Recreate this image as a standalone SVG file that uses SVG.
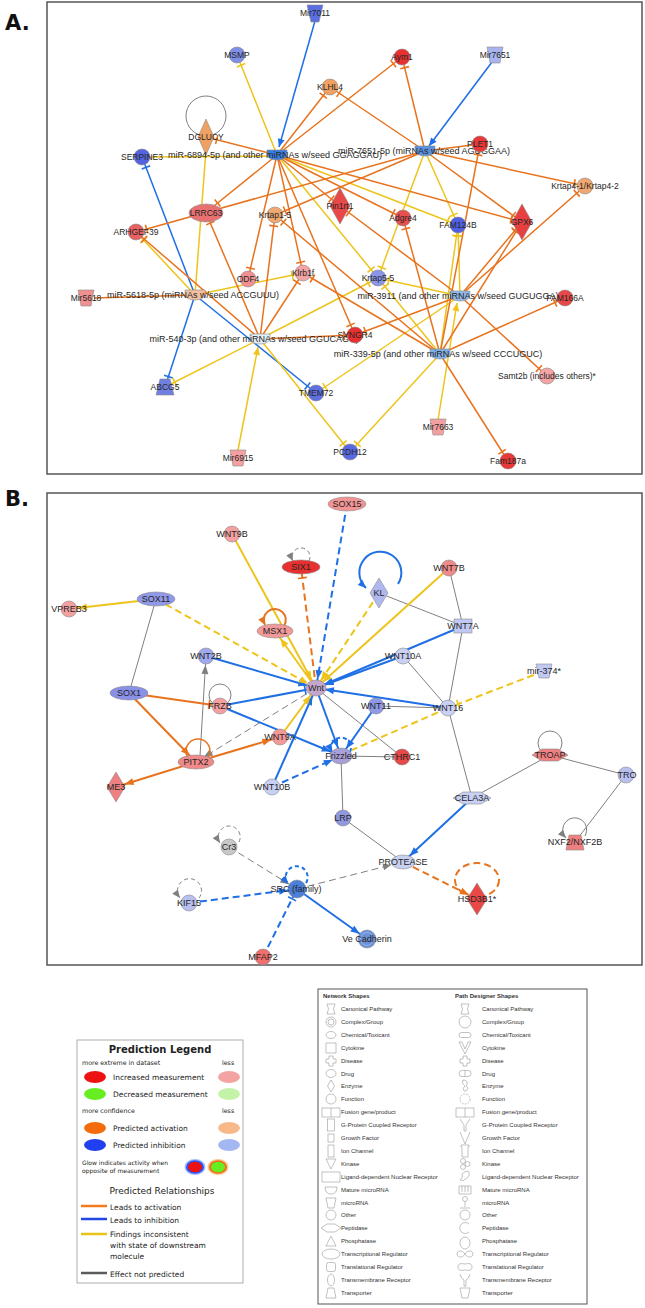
<svg xmlns="http://www.w3.org/2000/svg" width="645" height="1308" viewBox="0 0 645 1308">
<style>
.o{stroke:#e8731e;stroke-width:1.5;fill:none}
.b{stroke:#1f6fe5;stroke-width:1.5;fill:none}
.y{stroke:#eec41c;stroke-width:1.5;fill:none}
.g{stroke:#808080;stroke-width:1;fill:none}
.w{stroke-width:2}
.d{stroke-dasharray:7 4}
.d2{stroke-dasharray:4 3}
.n{stroke:#8c8c8c;stroke-width:.6}
.t{font-family:"Liberation Sans",Arial,sans-serif;font-size:8.5px;fill:#262626;text-anchor:middle}
.th{font-size:9px}
.lg{font-family:"DejaVu Sans",Verdana,sans-serif;fill:#222}
.ns{font-family:"Liberation Sans",Arial,sans-serif;font-size:6px;fill:#333}
.sh{fill:none;stroke:#999;stroke-width:.6}
.fr{fill:none;stroke:#555;stroke-width:1.5}
</style>
<defs>
<marker id="a9o" markerUnits="userSpaceOnUse" markerWidth="12" markerHeight="12" refX="18" refY="0" orient="auto" overflow="visible"><path d="M0,-3.5L9,0L0,3.5Z" fill="#e8731e"/></marker>
<marker id="a9b" markerUnits="userSpaceOnUse" markerWidth="12" markerHeight="12" refX="18" refY="0" orient="auto" overflow="visible"><path d="M0,-3.5L9,0L0,3.5Z" fill="#1f6fe5"/></marker>
<marker id="a9y" markerUnits="userSpaceOnUse" markerWidth="12" markerHeight="12" refX="18" refY="0" orient="auto" overflow="visible"><path d="M0,-3.5L9,0L0,3.5Z" fill="#eec41c"/></marker>
<marker id="a9g" markerUnits="userSpaceOnUse" markerWidth="12" markerHeight="12" refX="18" refY="0" orient="auto" overflow="visible"><path d="M0,-3.5L9,0L0,3.5Z" fill="#808080"/></marker>
<marker id="a0o" markerUnits="userSpaceOnUse" markerWidth="12" markerHeight="12" refX="8" refY="0" orient="auto" overflow="visible"><path d="M0,-3.5L8,0L0,3.5Z" fill="#e8731e"/></marker>
<marker id="a0b" markerUnits="userSpaceOnUse" markerWidth="12" markerHeight="12" refX="8" refY="0" orient="auto" overflow="visible"><path d="M0,-3.5L8,0L0,3.5Z" fill="#1f6fe5"/></marker>
<marker id="a0y" markerUnits="userSpaceOnUse" markerWidth="12" markerHeight="12" refX="8" refY="0" orient="auto" overflow="visible"><path d="M0,-3.5L8,0L0,3.5Z" fill="#eec41c"/></marker>
<marker id="a0g" markerUnits="userSpaceOnUse" markerWidth="12" markerHeight="12" refX="8" refY="0" orient="auto" overflow="visible"><path d="M0,-3.5L8,0L0,3.5Z" fill="#808080"/></marker>
<marker id="to" markerUnits="userSpaceOnUse" markerWidth="12" markerHeight="12" refX="11" refY="0" orient="auto" overflow="visible"><path d="M0,-4.5V4.5" stroke="#e8731e" stroke-width="1.6"/></marker>
<marker id="tb" markerUnits="userSpaceOnUse" markerWidth="12" markerHeight="12" refX="11" refY="0" orient="auto" overflow="visible"><path d="M0,-4.5V4.5" stroke="#1f6fe5" stroke-width="1.6"/></marker>
<marker id="ty" markerUnits="userSpaceOnUse" markerWidth="12" markerHeight="12" refX="11" refY="0" orient="auto" overflow="visible"><path d="M0,-4.5V4.5" stroke="#eec41c" stroke-width="1.6"/></marker>
</defs>
<rect width="645" height="1308" fill="#fff"/>
<text x="5" y="30" font-family="DejaVu Sans,Verdana,sans-serif" font-weight="bold" font-size="21" fill="#111">A.</text>
<text x="5" y="506" font-family="DejaVu Sans,Verdana,sans-serif" font-weight="bold" font-size="21" fill="#111">B.</text>
<rect class="fr" x="47" y="2" width="595" height="472"/>
<rect class="fr" x="47" y="493" width="595" height="472"/>

<g id="connectorsA">
<circle class="g" cx="206" cy="116" r="20"/>
<line class="b" x1="315" y1="21" x2="279" y2="147" marker-end="url(#a0b)"/>
<line class="b" x1="492" y1="62" x2="429" y2="146" marker-end="url(#a0b)"/>
<line class="b" x1="195" y1="295" x2="142" y2="157" marker-end="url(#tb)"/>
<line class="b" x1="195" y1="295" x2="165" y2="387" marker-end="url(#tb)"/>
<line class="b" x1="195" y1="295" x2="316" y2="393" marker-end="url(#tb)"/>
<line class="y" x1="277" y1="155" x2="237" y2="55" marker-end="url(#ty)"/>
<line class="y" x1="277" y1="156" x2="150" y2="157"/>
<line class="y" x1="206" y1="150" x2="195" y2="295"/>
<line class="y" x1="277" y1="155" x2="458" y2="225" marker-end="url(#ty)"/>
<line class="y" x1="277" y1="155" x2="378" y2="278" marker-end="url(#ty)"/>
<line class="y" x1="425" y1="151" x2="458" y2="225" marker-end="url(#ty)"/>
<line class="y" x1="425" y1="151" x2="378" y2="278" marker-end="url(#ty)"/>
<line class="y" x1="195" y1="295" x2="136" y2="232" marker-end="url(#ty)"/>
<line class="y" x1="195" y1="295" x2="303" y2="273" marker-end="url(#ty)"/>
<line class="y" x1="260" y1="339" x2="165" y2="387" marker-end="url(#ty)"/>
<line class="y" x1="238" y1="450" x2="258" y2="347" marker-end="url(#a0y)"/>
<line class="y" x1="260" y1="339" x2="378" y2="278" marker-end="url(#ty)"/>
<line class="y" x1="260" y1="339" x2="350" y2="452" marker-end="url(#ty)"/>
<line class="y" x1="460" y1="296" x2="458" y2="225" marker-end="url(#ty)"/>
<line class="y" x1="440" y1="354" x2="458" y2="225" marker-end="url(#ty)"/>
<line class="y" x1="460" y1="296" x2="378" y2="278" marker-end="url(#ty)"/>
<line class="y" x1="460" y1="296" x2="316" y2="393" marker-end="url(#ty)"/>
<line class="y" x1="440" y1="354" x2="378" y2="278" marker-end="url(#ty)"/>
<line class="y" x1="440" y1="354" x2="350" y2="452" marker-end="url(#ty)"/>
<line class="y" x1="438" y1="420" x2="457" y2="303" marker-end="url(#a0y)"/>
<line class="o" x1="277" y1="155" x2="330" y2="87" marker-end="url(#to)"/>
<line class="o" x1="277" y1="155" x2="402" y2="57" marker-end="url(#to)"/>
<line class="o" x1="277" y1="155" x2="206" y2="137" marker-end="url(#to)"/>
<line class="o" x1="277" y1="155" x2="209" y2="210" marker-end="url(#to)"/>
<line class="o" x1="277" y1="155" x2="340" y2="206" marker-end="url(#to)"/>
<line class="o" x1="277" y1="155" x2="403" y2="218" marker-end="url(#to)"/>
<line class="o" x1="277" y1="155" x2="522" y2="222" marker-end="url(#to)"/>
<line class="o" x1="277" y1="155" x2="248" y2="279" marker-end="url(#to)"/>
<line class="o" x1="277" y1="155" x2="303" y2="273" marker-end="url(#to)"/>
<line class="o" x1="277" y1="155" x2="355" y2="335" marker-end="url(#to)"/>
<line class="o" x1="425" y1="151" x2="402" y2="57" marker-end="url(#to)"/>
<line class="o" x1="425" y1="151" x2="330" y2="87" marker-end="url(#to)"/>
<line class="o" x1="425" y1="151" x2="472" y2="145"/>
<line class="o" x1="425" y1="151" x2="585" y2="186" marker-end="url(#to)"/>
<line class="o" x1="425" y1="151" x2="522" y2="222" marker-end="url(#to)"/>
<line class="o" x1="425" y1="151" x2="275" y2="215" marker-end="url(#to)"/>
<line class="o" x1="425" y1="151" x2="136" y2="232" marker-end="url(#to)"/>
<line class="o" x1="94" y1="298" x2="195" y2="295"/>
<line class="o" x1="260" y1="339" x2="136" y2="232" marker-end="url(#to)"/>
<line class="o" x1="260" y1="339" x2="206" y2="213" marker-end="url(#to)"/>
<line class="o" x1="260" y1="339" x2="275" y2="215" marker-end="url(#to)"/>
<line class="o" x1="260" y1="339" x2="303" y2="273" marker-end="url(#to)"/>
<line class="o" x1="260" y1="339" x2="355" y2="335" marker-end="url(#to)"/>
<line class="o" x1="460" y1="296" x2="522" y2="222" marker-end="url(#to)"/>
<line class="o" x1="440" y1="354" x2="522" y2="222" marker-end="url(#to)"/>
<line class="o" x1="460" y1="296" x2="355" y2="335" marker-end="url(#to)"/>
<line class="o" x1="460" y1="296" x2="547" y2="376" marker-end="url(#to)"/>
<line class="o" x1="440" y1="354" x2="565" y2="298" marker-end="url(#to)"/>
<line class="o" x1="440" y1="354" x2="403" y2="218" marker-end="url(#to)"/>
<line class="o" x1="440" y1="354" x2="508" y2="461" marker-end="url(#to)"/>
<line class="o" x1="440" y1="354" x2="303" y2="273" marker-end="url(#to)"/>
<line class="o" x1="460" y1="296" x2="340" y2="206" marker-end="url(#to)"/>
<line class="o" x1="440" y1="354" x2="275" y2="215" marker-end="url(#to)"/>
<line class="o" x1="440" y1="354" x2="480" y2="144" marker-end="url(#to)"/>
<line class="o" x1="460" y1="296" x2="585" y2="186" marker-end="url(#to)"/>
</g>

<g id="nodesA">
<g id="Mir7011"><path class="n" d="M307,5H323L319,22H311Z" fill="#5b6fe0"/><text class="t" x="315" y="16">Mir7011</text></g>
<g id="MSMP"><circle class="n" cx="237" cy="55" r="8" fill="#7f8fe8"/><text class="t" x="237" y="58">MSMP</text></g>
<g id="KLHL4"><circle class="n" cx="330" cy="87" r="8" fill="#f0a060"/><text class="t" x="330" y="90">KLHL4</text></g>
<g id="DGLUCY"><polygon class="n" points="206,119 214,137 206,155 198,137" fill="#f0a060"/><text class="t" x="206" y="140">DGLUCY</text></g>
<g id="SERPINE3"><circle class="n" cx="142" cy="157" r="8" fill="#5464e0"/><text class="t" x="142" y="160">SERPINE3</text></g>
<g id="miR-6894-5p"><path class="n" d="M267,150H287V153Q287,160 277,160Q267,160 267,153Z" fill="#3a7ee0"/><text class="t th" x="275" y="158">miR-6894-5p (and other miRNAs w/seed GGAGGAU)</text></g>
<g id="LRRC63"><ellipse class="n" cx="206" cy="213" rx="17" ry="9" fill="#e87070"/><text class="t" x="206" y="216">LRRC63</text></g>
<g id="Krtap1-5"><circle class="n" cx="275" cy="215" r="8" fill="#f0a870"/><text class="t" x="275" y="218">Krtap1-5</text></g>
<g id="ARHGEF39"><circle class="n" cx="136" cy="232" r="8" fill="#e86060"/><text class="t" x="136" y="235">ARHGEF39</text></g>
<g id="Pin1rt1"><polygon class="n" points="340,188 350,206 340,224 330,206" fill="#e84848"/><text class="t" x="340" y="209">Pin1rt1</text></g>
<g id="Aym1"><circle class="n" cx="402" cy="57" r="8" fill="#e83030"/><text class="t" x="402" y="60">Aym1</text></g>
<g id="Mir7651"><path class="n" d="M487,47H503L500,63H490Z" fill="#a8b4f0"/><text class="t" x="495" y="58">Mir7651</text></g>
<g id="miR-7651-5p"><path class="n" d="M415,146H435V149Q435,156 425,156Q415,156 415,149Z" fill="#5a92e0"/><text class="t th" x="424" y="154">miR-7651-5p (miRNAs w/seed AGUGGAA)</text></g>
<g id="PLET1"><circle class="n" cx="480" cy="144" r="8" fill="#e83838"/><text class="t" x="480" y="147">PLET1</text></g>
<g id="Krtap4-1"><circle class="n" cx="585" cy="186" r="8" fill="#f0a870"/><text class="t" x="585" y="189">Krtap4-1/Krtap4-2</text></g>
<g id="GPX6"><polygon class="n" points="522,204 532,222 522,240 512,222" fill="#e84040"/><text class="t" x="522" y="225">GPX6</text></g>
<g id="Adgre4"><circle class="n" cx="403" cy="218" r="8" fill="#e85050"/><text class="t" x="403" y="221">Adgre4</text></g>
<g id="FAM124B"><circle class="n" cx="458" cy="225" r="8" fill="#5060e0"/><text class="t" x="458" y="228">FAM124B</text></g>
<g id="Krtap5-5"><circle class="n" cx="378" cy="278" r="8" fill="#8a96ea"/><text class="t" x="378" y="281">Krtap5-5</text></g>
<g id="Klrb1f"><circle class="n" cx="303" cy="273" r="8" fill="#f4a4a4"/><text class="t" x="303" y="276">Klrb1f</text></g>
<g id="ODF4"><circle class="n" cx="248" cy="279" r="8" fill="#f09090"/><text class="t" x="248" y="282">ODF4</text></g>
<g id="Mir5618"><path class="n" d="M78,290H94L91,306H81Z" fill="#f09090"/><text class="t" x="86" y="301">Mir5618</text></g>
<g id="miR-5618-5p"><path class="n" d="M185,290H205V293Q205,300 195,300Q185,300 185,293Z" fill="#f4c0a0"/><text class="t th" x="193" y="298">miR-5618-5p (miRNAs w/seed ACCGUUU)</text></g>
<g id="miR-540-3p"><path class="n" d="M250,334H270V337Q270,344 260,344Q250,344 250,337Z" fill="#e2eef8"/><text class="t th" x="254" y="342">miR-540-3p (and other miRNAs w/seed GGUCAGU)</text></g>
<g id="ABCG5"><path class="n" d="M160,379H170L174,395H156Z" fill="#7080e0"/><text class="t" x="165" y="390">ABCG5</text></g>
<g id="TMEM72"><circle class="n" cx="316" cy="393" r="8" fill="#6070e0"/><text class="t" x="316" y="396">TMEM72</text></g>
<g id="Mir6915"><path class="n" d="M230,450H246L243,466H233Z" fill="#f4a0a0"/><text class="t" x="238" y="461">Mir6915</text></g>
<g id="PCDH12"><circle class="n" cx="350" cy="452" r="8" fill="#5868e0"/><text class="t" x="350" y="455">PCDH12</text></g>
<g id="miR-3911"><path class="n" d="M450,291H470V294Q470,301 460,301Q450,301 450,294Z" fill="#90b8e8"/><text class="t th" x="458" y="299">miR-3911 (and other miRNAs w/seed GUGUGGA)</text></g>
<g id="FAM166A"><circle class="n" cx="565" cy="298" r="8" fill="#e84848"/><text class="t" x="565" y="301">FAM166A</text></g>
<g id="SYNGR4"><circle class="n" cx="355" cy="335" r="8" fill="#e83030"/><text class="t" x="355" y="338">SYNGR4</text></g>
<g id="miR-339-5p"><path class="n" d="M430,349H450V352Q450,359 440,359Q430,359 430,352Z" fill="#80b0e8"/><text class="t th" x="438" y="357">miR-339-5p (and other miRNAs w/seed CCCUGUC)</text></g>
<g id="Samt2b"><circle class="n" cx="547" cy="376" r="8" fill="#f4a4a4"/><text class="t" x="547" y="379">Samt2b (includes others)*</text></g>
<g id="Mir7663"><path class="n" d="M430,419H446L443,435H433Z" fill="#f4a0a0"/><text class="t" x="438" y="430">Mir7663</text></g>
<g id="Fam187a"><circle class="n" cx="508" cy="461" r="8" fill="#e83838"/><text class="t" x="508" y="464">Fam187a</text></g>
</g>

<g id="connectorsB">
<line class="g" x1="379" y1="593" x2="463" y2="626"/>
<line class="g" x1="449" y1="568" x2="463" y2="626"/>
<line class="g" x1="463" y1="626" x2="448" y2="708"/>
<line class="g" x1="403" y1="656" x2="448" y2="708"/>
<line class="g" x1="376" y1="706" x2="448" y2="708"/>
<line class="g" x1="156" y1="599" x2="129" y2="693"/>
<line class="g" x1="316" y1="688" x2="402" y2="757"/>
<line class="g" x1="341" y1="756" x2="402" y2="757"/>
<line class="g" x1="341" y1="756" x2="343" y2="818"/>
<line class="g" x1="343" y1="818" x2="403" y2="862"/>
<line class="g" x1="448" y1="708" x2="472" y2="798"/>
<line class="g" x1="472" y1="798" x2="550" y2="755"/>
<line class="g" x1="550" y1="755" x2="626" y2="775"/>
<line class="g" x1="626" y1="775" x2="575" y2="842"/>
<line class="g" x1="200" y1="756" x2="206" y2="656" marker-end="url(#a9g)"/>
<line class="g d" x1="316" y1="688" x2="196" y2="762" marker-end="url(#a9g)"/>
<line class="g d" x1="297" y1="889" x2="391" y2="865" marker-end="url(#a0g)"/>
<line class="g d" x1="229" y1="847" x2="297" y2="889" marker-end="url(#a9g)"/>
<line class="b w" x1="463" y1="626" x2="316" y2="688" marker-end="url(#a9b)"/>
<line class="b w" x1="403" y1="656" x2="316" y2="688" marker-end="url(#a9b)"/>
<line class="b w" x1="448" y1="708" x2="316" y2="688" marker-end="url(#a9b)"/>
<line class="b w" x1="206" y1="656" x2="316" y2="688" marker-end="url(#a9b)"/>
<line class="b w" x1="220" y1="706" x2="316" y2="688" marker-end="url(#tb)"/>
<line class="b w" x1="272" y1="787" x2="316" y2="688" marker-end="url(#a9b)"/>
<line class="b w" x1="376" y1="706" x2="341" y2="756" marker-end="url(#a9b)"/>
<line class="b w" x1="316" y1="688" x2="341" y2="756" marker-end="url(#a9b)"/>
<line class="b w" x1="220" y1="706" x2="339" y2="755" marker-end="url(#a9b)"/>
<line class="b w" x1="472" y1="798" x2="403" y2="862" marker-end="url(#a9b)"/>
<line class="b w" x1="297" y1="889" x2="367" y2="939" marker-end="url(#a9b)"/>
<line class="b w d" x1="347" y1="504" x2="316" y2="688" marker-end="url(#a9b)"/>
<line class="b w d" x1="272" y1="787" x2="341" y2="756" marker-end="url(#a9b)"/>
<line class="b w d" x1="189" y1="903" x2="297" y2="889" marker-end="url(#a9b)"/>
<line class="b w d" x1="263" y1="957" x2="297" y2="889" marker-end="url(#tb)"/>
<line class="y w" x1="232" y1="534" x2="316" y2="688" marker-end="url(#a9y)"/>
<line class="y w" x1="449" y1="568" x2="316" y2="688" marker-end="url(#a9y)"/>
<line class="y w" x1="280" y1="737" x2="316" y2="688" marker-end="url(#a9y)"/>
<line class="y w" x1="156" y1="599" x2="69" y2="609" marker-end="url(#a9y)"/>
<line class="y w" x1="316" y1="688" x2="275" y2="631" marker-end="url(#a9y)"/>
<line class="y w d" x1="379" y1="593" x2="316" y2="688" marker-end="url(#a9y)"/>
<line class="y w d" x1="156" y1="599" x2="316" y2="688" marker-end="url(#a9y)"/>
<line class="y w d" x1="544" y1="671" x2="448" y2="708" marker-end="url(#ty)"/>
<line class="y w d" x1="448" y1="708" x2="352" y2="750"/>
<line class="o w" x1="129" y1="693" x2="220" y2="706" marker-end="url(#to)"/>
<line class="o w" x1="129" y1="693" x2="196" y2="762" marker-end="url(#a9o)"/>
<line class="o w" x1="196" y1="762" x2="280" y2="737" marker-end="url(#a9o)"/>
<line class="o w" x1="196" y1="762" x2="116" y2="787" marker-end="url(#a9o)"/>
<line class="o w d" x1="316" y1="688" x2="301" y2="567" marker-end="url(#to)"/>
<line class="o w d" x1="403" y1="862" x2="477" y2="899" marker-end="url(#a9o)"/>
<path class="g d2" d="M309,561A9,9 0 1 0 293,561" marker-end="url(#a0g)"/>
<path class="b w" d="M398,584A21,21 0 1 0 366,588" marker-end="url(#a0b)"/>
<path class="o w" d="M284,626A11,11 0 1 0 265,625" marker-end="url(#a0o)"/>
<circle class="g" cx="220" cy="695" r="11"/>
<circle class="o" cx="198" cy="751" r="12"/>
<path class="b w d2" d="M350,752A10,10 0 1 0 332,752" marker-end="url(#a0b)"/>
<circle class="g" cx="550" cy="743" r="12"/>
<path class="g" d="M585,836A12,12 0 1 0 566,838" marker-end="url(#a0g)"/>
<path class="g d2" d="M239,842A11,11 0 1 0 220,843" marker-end="url(#a0g)"/>
<path class="b w d2" d="M306,883A11,11 0 1 0 288,884" marker-end="url(#a0b)"/>
<path class="g d2" d="M199,898A12,12 0 1 0 180,898" marker-end="url(#a0g)"/>
<ellipse class="o w d" cx="477" cy="880" rx="22" ry="17"/>
</g>

<g id="nodesB">
<g id="SOX15"><ellipse class="n" cx="347" cy="504" rx="19" ry="7" fill="#f29494"/><text class="t th" x="347" y="507">SOX15</text></g>
<g id="WNT9B"><circle class="n" cx="232" cy="534" r="8" fill="#f4a0a0"/><text class="t th" x="232" y="537">WNT9B</text></g>
<g id="SIX1"><ellipse class="n" cx="301" cy="567" rx="19" ry="7" fill="#e83030"/><text class="t th" x="301" y="570">SIX1</text></g>
<g id="KL"><polygon class="n" points="379,578 388,593 379,608 370,593" fill="#b0b8f0"/><text class="t th" x="379" y="596">KL</text></g>
<g id="WNT7B"><circle class="n" cx="449" cy="568" r="8" fill="#f08a8a"/><text class="t th" x="449" y="571">WNT7B</text></g>
<g id="VPREB3"><circle class="n" cx="69" cy="609" r="8" fill="#f4a0a0"/><text class="t th" x="69" y="612">VPREB3</text></g>
<g id="SOX11"><ellipse class="n" cx="156" cy="599" rx="19" ry="7" fill="#9098e8"/><text class="t th" x="156" y="602">SOX11</text></g>
<g id="MSX1"><ellipse class="n" cx="275" cy="631" rx="18" ry="7" fill="#f29a9a"/><text class="t th" x="275" y="634">MSX1</text></g>
<g id="WNT7A"><rect class="n" x="454" y="619" width="18" height="14" fill="#c0c8f4"/><text class="t th" x="463" y="629">WNT7A</text></g>
<g id="WNT10A"><circle class="n" cx="403" cy="656" r="8" fill="#c8d0f4"/><text class="t th" x="403" y="659">WNT10A</text></g>
<g id="WNT2B"><circle class="n" cx="206" cy="656" r="8" fill="#a0a8ee"/><text class="t th" x="206" y="659">WNT2B</text></g>
<g id="mir-374"><path class="n" d="M536,664H552L549,678H539Z" fill="#c0c8f4"/><text class="t th" x="544" y="674">mir-374*</text></g>
<g id="Wnt"><ellipse class="n" cx="316" cy="688" rx="10" ry="8" fill="#c4a6cc"/><text class="t th" x="316" y="691">Wnt</text></g>
<g id="SOX1"><ellipse class="n" cx="129" cy="693" rx="19" ry="7" fill="#8890e8"/><text class="t th" x="129" y="696">SOX1</text></g>
<g id="FRZB"><circle class="n" cx="220" cy="706" r="8" fill="#f4a0a0"/><text class="t th" x="220" y="709">FRZB</text></g>
<g id="WNT11"><circle class="n" cx="376" cy="706" r="8" fill="#9098e8"/><text class="t th" x="376" y="709">WNT11</text></g>
<g id="WNT16"><circle class="n" cx="448" cy="708" r="8" fill="#c8d0f4"/><text class="t th" x="448" y="711">WNT16</text></g>
<g id="PITX2"><ellipse class="n" cx="196" cy="762" rx="18" ry="7" fill="#f08a8a"/><text class="t th" x="196" y="765">PITX2</text></g>
<g id="WNT9A"><circle class="n" cx="280" cy="737" r="8" fill="#f49898"/><text class="t th" x="280" y="740">WNT9A</text></g>
<g id="Frizzled"><ellipse class="n" cx="341" cy="756" rx="11" ry="8" fill="#a8a0d8"/><text class="t th" x="341" y="759">Frizzled</text></g>
<g id="CTHRC1"><circle class="n" cx="402" cy="757" r="8" fill="#e84848"/><text class="t th" x="402" y="760">CTHRC1</text></g>
<g id="ME3"><polygon class="n" points="116,772 125,787 116,802 107,787" fill="#f08080"/><text class="t th" x="116" y="790">ME3</text></g>
<g id="WNT10B"><circle class="n" cx="272" cy="787" r="8" fill="#c8d0f4"/><text class="t th" x="272" y="790">WNT10B</text></g>
<g id="TROAP"><path class="n" d="M532,755L542,749H558L568,755L558,761H542Z" fill="#f08080"/><text class="t th" x="550" y="758">TROAP</text></g>
<g id="TRO"><circle class="n" cx="626" cy="775" r="8" fill="#b8c0f0"/><text class="t th" x="627" y="778">TRO</text></g>
<g id="CELA3A"><path class="n" d="M453,798L463,792H481L491,798L481,804H463Z" fill="#c8d0f4"/><text class="t th" x="472" y="801">CELA3A</text></g>
<g id="LRP"><circle class="n" cx="343" cy="818" r="8" fill="#9098e0"/><text class="t th" x="343" y="821">LRP</text></g>
<g id="NXF2"><path class="n" d="M569,835H581L584,850H566Z" fill="#f08080"/><text class="t th" x="575" y="845">NXF2/NXF2B</text></g>
<g id="Cr3"><circle class="n" cx="229" cy="847" r="8" fill="#c8c8c8"/><text class="t th" x="229" y="850">Cr3</text></g>
<g id="PROTEASE"><ellipse class="n" cx="403" cy="862" rx="12" ry="7" fill="#c8d0f0"/><text class="t th" x="403" y="865">PROTEASE</text></g>
<g id="SRC"><circle class="n" cx="297" cy="889" r="9" fill="#4a80d8"/><text class="t th" x="296" y="892">SRC (family)</text></g>
<g id="HSD3B1"><polygon class="n" points="477,883 487,899 477,915 467,899" fill="#e84848"/><text class="t th" x="477" y="902">HSD3B1*</text></g>
<g id="KIF15"><circle class="n" cx="189" cy="903" r="8" fill="#b8c0f0"/><text class="t th" x="189" y="906">KIF15</text></g>
<g id="VeCadherin"><circle class="n" cx="367" cy="939" r="9" fill="#6c90d8"/><circle cx="367" cy="939" r="6.5" fill="none" stroke="#a8c0ee" stroke-width=".7"/><text class="t th" x="367" y="942">Ve Cadherin</text></g>
<g id="MFAP2"><circle class="n" cx="263" cy="957" r="8" fill="#f07070"/><text class="t th" x="263" y="960">MFAP2</text></g>
</g>

<g id="prediction-legend" class="lg">
<rect x="77" y="1040" width="166" height="243" fill="#fff" stroke="#999" stroke-width=".8"/>
<text x="160" y="1053" font-weight="bold" font-size="10" text-anchor="middle">Prediction Legend</text>
<text x="82" y="1065" font-size="6.3">more extreme in dataset</text><text x="222" y="1065" font-size="6.3">less</text>
<ellipse cx="95" cy="1077" rx="11" ry="6" fill="#ee1111"/><text x="113" y="1080" font-size="7.5">Increased measurement</text><ellipse cx="229" cy="1077" rx="11" ry="6" fill="#f4a3a3"/>
<ellipse cx="95" cy="1094" rx="11" ry="6" fill="#66ee22"/><text x="113" y="1097" font-size="7.5">Decreased measurement</text><ellipse cx="229" cy="1094" rx="11" ry="6" fill="#c3f2a8"/>
<text x="82" y="1113" font-size="6.3">more confidence</text><text x="222" y="1113" font-size="6.3">less</text>
<ellipse cx="95" cy="1128" rx="11" ry="6" fill="#f26c0c"/><text x="113" y="1131" font-size="7.5">Predicted activation</text><ellipse cx="229" cy="1128" rx="11" ry="6" fill="#f8b98a"/>
<ellipse cx="95" cy="1145" rx="11" ry="6" fill="#1f3ff0"/><text x="113" y="1148" font-size="7.5">Predicted inhibition</text><ellipse cx="229" cy="1145" rx="11" ry="6" fill="#a3b8f2"/>
<text x="82" y="1165" font-size="6">Glow indicates activity when</text><text x="82" y="1173" font-size="6">opposite of measurement</text>
<ellipse cx="195" cy="1167" rx="10.5" ry="8" fill="#a8bcff"/><ellipse cx="195" cy="1167" rx="9" ry="6.8" fill="#2d52f0"/><ellipse cx="195" cy="1167" rx="7" ry="5.2" fill="#ee1111"/>
<ellipse cx="218" cy="1167" rx="10.5" ry="8" fill="#fbc894"/><ellipse cx="218" cy="1167" rx="9" ry="6.8" fill="#f07018"/><ellipse cx="218" cy="1167" rx="7" ry="5.2" fill="#66ee22"/>
<text x="162" y="1194" font-size="9" text-anchor="middle">Predicted Relationships</text>
<line x1="81" y1="1206" x2="107" y2="1206" stroke="#f57a1c" stroke-width="2.5"/><text x="110" y="1209.5" font-size="7.5">Leads to activation</text>
<line x1="81" y1="1219" x2="107" y2="1219" stroke="#2346e6" stroke-width="2.5"/><text x="110" y="1222.5" font-size="7.5">Leads to inhibition</text>
<line x1="81" y1="1234" x2="107" y2="1234" stroke="#e6c41a" stroke-width="2.5"/><text x="110" y="1237" font-size="7.5">Findings inconsistent</text><text x="110" y="1248" font-size="7.5">with state of downstream</text><text x="110" y="1259" font-size="7.5">molecule</text>
<line x1="81" y1="1273" x2="107" y2="1273" stroke="#5a5a5a" stroke-width="2.5"/><text x="110" y="1276.5" font-size="7.5">Effect not predicted</text>
</g>

<g id="shapes-legend">
<rect x="318" y="989" width="269" height="315" fill="#fff" stroke="#555" stroke-width="1"/>
<text class="ns" x="323" y="998" font-weight="bold">Network Shapes</text>
<text class="ns" x="455" y="998" font-weight="bold">Path Designer Shapes</text>
<g class="ns">
<text x="341" y="1011">Canonical Pathway</text><text x="482" y="1011">Canonical Pathway</text>
<text x="341" y="1024">Complex/Group</text><text x="482" y="1024">Complex/Group</text>
<text x="341" y="1037">Chemical/Toxicant</text><text x="482" y="1037">Chemical/Toxicant</text>
<text x="341" y="1050">Cytokine</text><text x="482" y="1050">Cytokine</text>
<text x="341" y="1063">Disease</text><text x="482" y="1063">Disease</text>
<text x="341" y="1076">Drug</text><text x="482" y="1076">Drug</text>
<text x="341" y="1088">Enzyme</text><text x="482" y="1088">Enzyme</text>
<text x="341" y="1101">Function</text><text x="482" y="1101">Function</text>
<text x="341" y="1114">Fusion gene/product</text><text x="482" y="1114">Fusion gene/product</text>
<text x="341" y="1127">G-Protein Coupled Receptor</text><text x="482" y="1127">G-Protein Coupled Receptor</text>
<text x="341" y="1140">Growth Factor</text><text x="482" y="1140">Growth Factor</text>
<text x="341" y="1153">Ion Channel</text><text x="482" y="1153">Ion Channel</text>
<text x="341" y="1166">Kinase</text><text x="482" y="1166">Kinase</text>
<text x="341" y="1179">Ligand-dependent Nuclear Receptor</text><text x="482" y="1179">Ligand-dependent Nuclear Receptor</text>
<text x="341" y="1192">Mature microRNA</text><text x="482" y="1192">Mature microRNA</text>
<text x="341" y="1205">microRNA</text><text x="482" y="1205">microRNA</text>
<text x="341" y="1217">Other</text><text x="482" y="1217">Other</text>
<text x="341" y="1230">Peptidase</text><text x="482" y="1230">Peptidase</text>
<text x="341" y="1243">Phosphatase</text><text x="482" y="1243">Phosphatase</text>
<text x="341" y="1256">Transcriptional Regulator</text><text x="482" y="1256">Transcriptional Regulator</text>
<text x="341" y="1269">Translational Regulator</text><text x="482" y="1269">Translational Regulator</text>
<text x="341" y="1282">Transmembrane Receptor</text><text x="482" y="1282">Transmembrane Receptor</text>
<text x="341" y="1295">Transporter</text><text x="482" y="1295">Transporter</text>
</g>
<g class="sh">
<path d="M327,1004H335Q332,1009 335,1014H327Q330,1009 327,1004Z"/>
<circle cx="331" cy="1022" r="5"/><circle cx="331" cy="1022" r="3"/>
<ellipse cx="331" cy="1035" rx="5" ry="3.5"/>
<rect x="326" y="1043" width="10" height="10"/>
<path d="M329,1056H333V1059H336V1063H333V1066H329V1063H326V1059H329Z"/>
<ellipse cx="331" cy="1073.5" rx="5" ry="4"/>
<path d="M331,1080L334.5,1086L331,1092L327.5,1086Z"/>
<circle cx="331" cy="1099" r="5"/>
<rect x="322" y="1108" width="18" height="9"/><path d="M331,1108V1117"/>
<rect x="327.5" y="1119" width="7" height="12"/>
<rect x="328" y="1134" width="6" height="8"/>
<rect x="328" y="1145" width="6" height="12"/>
<path d="M326,1159H336L331,1169Z"/>
<rect x="322" y="1172" width="18" height="10"/>
<path d="M325,1187H337Q337,1194 331,1194Q325,1194 325,1187Z"/>
<path d="M326,1198H336L334,1208H328Z"/>
<circle cx="331" cy="1215" r="5"/>
<path d="M321,1228L327,1224H335L341,1228L335,1232H327Z"/>
<path d="M331,1236L336,1246H326Z"/>
<ellipse cx="331" cy="1254" rx="9" ry="5"/>
<rect x="326.5" y="1262.5" width="9" height="9" rx="2"/>
<ellipse cx="331" cy="1280" rx="3.5" ry="6"/>
<path d="M328,1288H334L336,1298H326Z"/>
<path d="M461,1004H469Q466,1009 469,1014H461Q464,1009 461,1004Z"/>
<circle cx="465" cy="1022" r="6"/>
<rect x="459" y="1032.5" width="12" height="5" rx="2.5"/>
<path d="M459,1042L465,1054L471,1042L468,1042L465,1049L462,1042Z"/>
<path d="M463,1056H467V1059H470V1063H467V1066H463V1063H460V1059H463Z"/>
<rect x="459" y="1070.5" width="12" height="6" rx="3"/><path d="M465,1070.5V1076.5"/>
<path d="M463,1080Q468,1080 467,1084Q465,1086 468,1088Q467,1092 464,1091Q462,1088 465,1086Q461,1084 463,1080Z"/>
<circle cx="465" cy="1099" r="5" stroke-dasharray="2 1"/>
<rect x="456" y="1108" width="18" height="9"/><path d="M465,1108V1117"/>
<path d="M460,1119L464,1125V1131H466V1125L470,1119"/>
<path d="M460,1132L465,1144L470,1132"/>
<path d="M461,1145H469V1147H468V1157H462V1147H461Z"/>
<circle cx="463" cy="1161" r="2.5"/><circle cx="467.5" cy="1164" r="2.5"/><circle cx="463" cy="1167" r="2.5"/>
<path d="M468,1171Q471,1175 467,1178Q463,1182 460,1180Q464,1177 462,1174Q465,1171 468,1171Z"/>
<path d="M459,1186H471V1194H459Z M462,1186V1192 M465,1186V1192 M468,1186V1192"/>
<circle cx="465" cy="1199" r="2.5"/><path d="M465,1201.5V1207M460,1208H470"/>
<circle cx="465" cy="1215" r="5"/>
<path d="M469,1224A5.5,5.5 0 1 0 469,1232"/>
<ellipse cx="465" cy="1243" rx="5" ry="6"/>
<path d="M465,1254C462,1249 457,1251 457,1254C457,1257 462,1259 465,1254C468,1249 473,1251 473,1254C473,1257 468,1259 465,1254Z"/>
<path d="M458,1267C458,1262 464,1264 465,1264C466,1264 472,1262 472,1267C472,1272 466,1270 465,1270C464,1270 458,1272 458,1267Z"/>
<path d="M460,1274Q461,1279 464,1280V1286H466V1280Q469,1279 470,1274"/>
<path d="M460,1288H470L468,1298H462Z"/>
</g>
</g>
</svg>
